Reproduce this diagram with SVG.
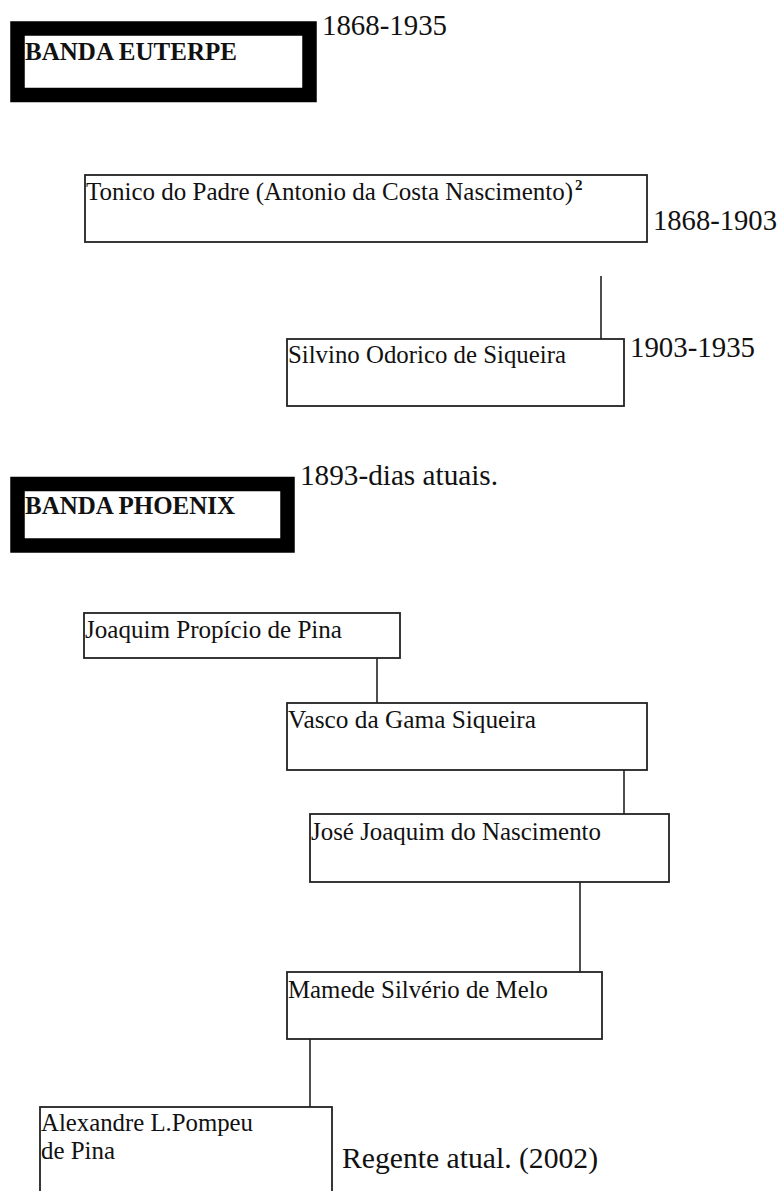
<svg xmlns="http://www.w3.org/2000/svg" width="781" height="1191" viewBox="0 0 781 1191">
<style>
.bg{fill:#fff}
.thick{fill:#fff;stroke:#000;stroke-width:14.5}
.box{fill:#fff;stroke:#222;stroke-width:1.8}
.conn{stroke:#222;stroke-width:1.6;fill:none}
.hdr{font-family:"Liberation Serif","Times New Roman",serif;font-weight:bold;font-size:25px;fill:#111}
.t{font-family:"Liberation Serif","Times New Roman",serif;font-size:25px;fill:#111}
.d{font-family:"Liberation Serif","Times New Roman",serif;font-size:29px;fill:#111}
.sup{font-family:"Liberation Serif","Times New Roman",serif;font-weight:bold;font-size:15px;fill:#111}
</style>
<rect class="bg" x="0" y="0" width="781" height="1191"/>
<g id="connectors">
<line class="conn" x1="601" y1="276" x2="601" y2="339"/>
<line class="conn" x1="377" y1="658" x2="377" y2="703"/>
<line class="conn" x1="624" y1="770" x2="624" y2="814"/>
<line class="conn" x1="580" y1="882" x2="580" y2="972"/>
<line class="conn" x1="310" y1="1039" x2="310" y2="1107"/>
</g>
<g id="banda-euterpe">
<rect class="thick" x="17.5" y="28.5" width="292" height="66.5"/>
<text class="hdr" x="25" y="60" textLength="212" lengthAdjust="spacingAndGlyphs">BANDA EUTERPE</text>
</g>
<g id="date-euterpe"><text class="d" x="322" y="35" textLength="125" lengthAdjust="spacingAndGlyphs">1868-1935</text></g>
<g id="tonico">
<rect class="box" x="85" y="175" width="562" height="67"/>
<text class="t" x="86" y="200" textLength="487" lengthAdjust="spacingAndGlyphs">Tonico do Padre (Antonio da Costa Nascimento)</text>
<text class="sup" x="575" y="190">2</text>
</g>
<g id="date-tonico"><text class="d" x="653" y="230" textLength="124" lengthAdjust="spacingAndGlyphs">1868-1903</text></g>
<g id="silvino">
<rect class="box" x="287" y="339" width="337" height="67"/>
<text class="t" x="288" y="363" textLength="278" lengthAdjust="spacingAndGlyphs">Silvino Odorico de Siqueira</text>
</g>
<g id="date-silvino"><text class="d" x="630" y="357" textLength="125" lengthAdjust="spacingAndGlyphs">1903-1935</text></g>
<g id="banda-phoenix">
<rect class="thick" x="17.5" y="484" width="270" height="61.5"/>
<text class="hdr" x="25" y="514" textLength="210" lengthAdjust="spacingAndGlyphs">BANDA PHOENIX</text>
</g>
<g id="date-phoenix"><text class="d" x="300" y="485" textLength="198" lengthAdjust="spacingAndGlyphs">1893-dias atuais.</text></g>
<g id="joaquim">
<rect class="box" x="84" y="613" width="316" height="45"/>
<text class="t" x="85" y="638" textLength="257" lengthAdjust="spacingAndGlyphs">Joaquim Propício de Pina</text>
</g>
<g id="vasco">
<rect class="box" x="287" y="703" width="360" height="67"/>
<text class="t" x="288" y="728" textLength="248" lengthAdjust="spacingAndGlyphs">Vasco da Gama Siqueira</text>
</g>
<g id="jose">
<rect class="box" x="310" y="814" width="359" height="68"/>
<text class="t" x="311" y="840" textLength="290" lengthAdjust="spacingAndGlyphs">José Joaquim do Nascimento</text>
</g>
<g id="mamede">
<rect class="box" x="287" y="972" width="315" height="67"/>
<text class="t" x="288" y="998" textLength="260" lengthAdjust="spacingAndGlyphs">Mamede Silvério de Melo</text>
</g>
<g id="alexandre">
<rect class="box" x="40" y="1107" width="292" height="100"/>
<text class="t" x="41" y="1131" textLength="212" lengthAdjust="spacingAndGlyphs">Alexandre L.Pompeu</text>
<text class="t" x="41" y="1159" textLength="74" lengthAdjust="spacingAndGlyphs">de Pina</text>
</g>
<g id="regente"><text class="d" x="342" y="1168" textLength="256" lengthAdjust="spacingAndGlyphs">Regente atual. (2002)</text></g>
</svg>
